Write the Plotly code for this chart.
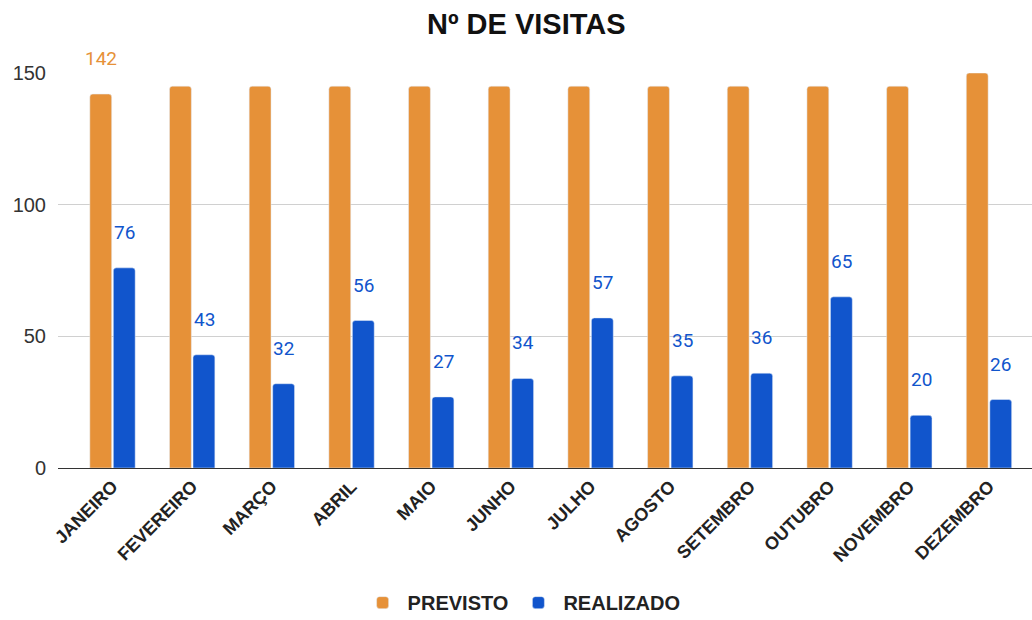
import plotly.graph_objects as go

meses = ['JANEIRO', 'FEVEREIRO', 'MARÇO', 'ABRIL', 'MAIO', 'JUNHO',
         'JULHO', 'AGOSTO', 'SETEMBRO', 'OUTUBRO', 'NOVEMBRO', 'DEZEMBRO']
previsto = [142, 145, 145, 145, 145, 145, 145, 145, 145, 145, 145, 150]
realizado = [76, 43, 32, 56, 27, 34, 57, 35, 36, 65, 20, 26]

laranja = '#e69138'
azul = '#1155cc'

fig = go.Figure()
fig.add_trace(go.Bar(x=meses, y=previsto, name='<b>PREVISTO</b>',
                     marker=dict(color=laranja, cornerradius=3)))
fig.add_trace(go.Bar(x=meses, y=realizado, name='<b>REALIZADO</b>',
                     marker=dict(color=azul, cornerradius=3)))

# rótulos de dados (só o primeiro previsto tem rótulo)
anns = [dict(x=meses[0], y=previsto[0], text=str(previsto[0]), xref='x', yref='y',
             showarrow=False, yanchor='bottom', xshift=-12, yshift=22,
             font=dict(color=laranja, size=19, family='Roboto'))]
for m, v in zip(meses, realizado):
    anns.append(dict(x=m, y=v, text=str(v), xref='x', yref='y', showarrow=False,
                     yanchor='bottom', xshift=12, yshift=22,
                     font=dict(color=azul, size=19, family='Roboto')))

fig.update_layout(
    width=1032, height=620,
    title=dict(text='<b>Nº DE VISITAS</b>', x=0.51, xanchor='center',
               yref='container', y=0.961, yanchor='middle',
               font=dict(size=29, color='#111')),
    font=dict(family='Liberation Sans, Arial, sans-serif', color='#222'),
    plot_bgcolor='white', paper_bgcolor='white',
    barmode='group', bargap=0.41, bargroupgap=0.07,
    margin=dict(l=58, r=0, t=73, b=152),
    annotations=anns,
    legend=dict(orientation='h', x=0.476, xanchor='center',
                yref='container', y=0.028, yanchor='middle',
                font=dict(size=20, color='#222'), itemwidth=40,
                tracegroupgap=0),
    showlegend=True,
)
fig.update_xaxes(tickangle=-45, tickfont=dict(size=18, color='#222'),
                 tickprefix='<b>', ticksuffix='</b>', showline=True,
                 linecolor='#333', linewidth=1, automargin=False,
                 range=[-0.684, 11.54])
fig.update_yaxes(range=[0, 150], tickvals=[0, 50, 100, 150], gridcolor='#d0d0d0',
                 tickfont=dict(size=20, color='#333'), zeroline=False, ticks='',
                 ticklabelstandoff=11, automargin=False)

# tira a margem do body para a figura ocupar a janela toda
fig.write_html('out.html', config={'displayModeBar': False},
               post_script="document.body.style.margin='0';")
